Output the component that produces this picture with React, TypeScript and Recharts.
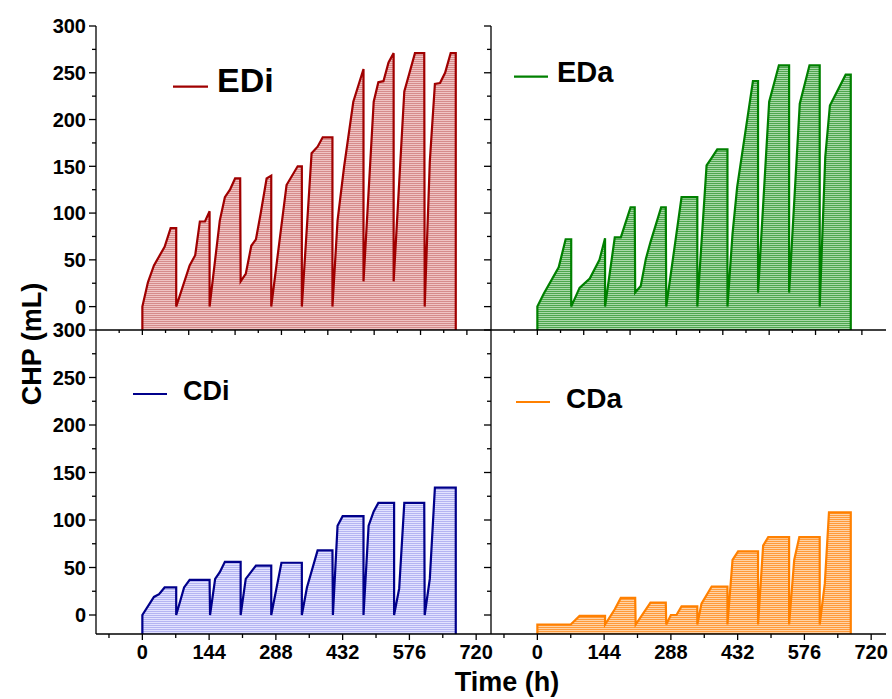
import React from 'react';
import { AreaChart, Area, XAxis, YAxis } from 'recharts';

// ---------- data (time in h, CHP in mL) ----------
const ediTime = [0, 12, 25, 48, 61, 73, 73, 102, 114, 124, 135, 145, 145, 167, 178, 189, 200, 211, 212, 223, 235, 245, 255, 268, 278, 278, 311, 335, 344, 344, 365, 378, 389, 410, 410, 421, 435, 455, 477, 477, 499, 509, 520, 531, 542, 542, 565, 588, 608, 609, 620, 631, 642, 653, 665, 676];
const ediValue = [0, 26, 44, 64, 84, 84, 0, 44, 55, 91, 91, 102, 0, 92, 117, 125, 137, 137, 27, 35, 65, 72, 99, 137, 140, 0, 130, 150, 150, 0, 164, 171, 181, 181, 0, 92, 149, 219, 254, 27, 219, 240, 241, 261, 271, 27, 230, 271, 271, 0, 155, 238, 239, 250, 271, 271];

const edaTime = [0, 14, 46, 61, 73, 73, 91, 113, 134, 146, 146, 167, 180, 201, 210, 211, 223, 234, 244, 267, 277, 278, 311, 345, 345, 365, 376, 388, 410, 410, 421, 431, 465, 476, 476, 500, 521, 543, 543, 566, 587, 609, 609, 621, 631, 665, 676];
const edaValue = [0, 14, 42, 72, 72, 0, 20, 30, 50, 73, 0, 74, 74, 106, 106, 15, 22, 51, 69, 106, 106, 0, 117, 117, 0, 151, 159, 168, 168, 0, 78, 128, 241, 241, 15, 219, 258, 258, 15, 217, 258, 258, 0, 160, 215, 248, 248];

const cdiTime = [0, 25, 36, 48, 73, 73, 90, 102, 145, 146, 157, 167, 178, 212, 212, 223, 245, 278, 278, 300, 344, 344, 355, 378, 410, 411, 421, 432, 477, 477, 488, 499, 509, 543, 543, 554, 565, 608, 609, 620, 631, 676];
const cdiValue = [0, 19, 22, 29, 29, 0, 29, 37, 37, 0, 38, 45, 56, 56, 0, 38, 52, 52, 0, 55, 55, 0, 29, 68, 68, 0, 94, 104, 104, 0, 94, 109, 118, 118, 0, 28, 118, 118, 0, 38, 134, 134];

const cdaTime = [0, 72, 91, 146, 146, 167, 180, 211, 212, 244, 277, 278, 288, 300, 311, 345, 345, 354, 376, 410, 410, 421, 433, 476, 476, 487, 498, 543, 543, 554, 565, 609, 609, 620, 629, 676];
const cdaValue = [-10, -10, -1, -1, -10, 6, 18, 18, -10, 13, 13, -10, 0, 0, 9, 9, -10, 12, 30, 30, -10, 58, 67, 67, -10, 73, 82, 82, -10, 58, 82, 82, -10, 33, 108, 108];

// tick values
const xLabelTicks = [-72, 0, 72, 144, 216, 288, 360, 432, 504, 576, 648, 720];
const xFiftyTicks = [-50, 0, 50, 100, 150, 200, 250, 300, 350, 400, 450, 500, 550, 600, 650, 700];
const yTicks = [0, 25, 50, 75, 100, 125, 150, 175, 200, 225, 250, 275, 300];

const X_MIN = -100;
const X_MAX = 752;
const Y_MAX = 300;

const FONT = '"Liberation Sans", Arial, Helvetica, sans-serif';
const AX = { stroke: '#000', strokeWidth: 1.3 };

const empty = () => <g />;

const leftTick = (labels: boolean) => (props: any) => {
  const { x, y, payload } = props;
  const v = payload.value;
  const major = v % 50 === 0;
  const len = major ? 7 : 4;
  return (
    <g>
      <line x1={x} x2={x - len} y1={y} y2={y} stroke="#000" strokeWidth={1.3} />
      {labels && major && (
        <text x={x - 10} y={y} dy="0.36em" textAnchor="end" fontSize={20} fontWeight="bold" fontFamily={FONT} fill="#000">
          {v}
        </text>
      )}
    </g>
  );
};

const bottomLabelTick = (props: any) => {
  const { x, y, payload } = props;
  const v = payload.value;
  const major = v % 144 === 0;
  const len = major ? 6 : 4;
  return (
    <g>
      <line x1={x} x2={x} y1={y} y2={y + len} stroke="#000" strokeWidth={1.3} />
      {major && v >= 0 && (
        <text x={x} y={y + 25} textAnchor="middle" fontSize={20} fontWeight="bold" fontFamily={FONT} fill="#000">
          {v}
        </text>
      )}
    </g>
  );
};

const bottomFiftyTick = (props: any) => {
  const { x, y, payload } = props;
  const v = payload.value;
  const len = v % 100 === 0 ? 5 : 3;
  return <line x1={x} x2={x} y1={y} y2={y + len} stroke="#000" strokeWidth={1.3} />;
};

const topInTick = (props: any) => {
  const { x, y, index } = props;
  const len = index % 2 === 1 ? 5 : 3;
  return <line x1={x} x2={x} y1={y} y2={y + len} stroke="#000" strokeWidth={1.3} />;
};

const rightInTick = (props: any) => {
  const { x, y, index } = props;
  const len = index % 2 === 1 ? 5 : 3;
  return <line x1={x} x2={x - len} y1={y} y2={y} stroke="#000" strokeWidth={1.3} />;
};

type PanelProps = {
  left: number;
  top: number;
  w: number;
  h: number;
  yMin: number;
  time: number[];
  value: number[];
  stroke: string;
  bg: string;
  line: string;
  pid: string;
  yLabels: boolean;
  xLabels: boolean;
  topTicks: boolean;
  rightTicks: boolean;
};

function Panel(p: PanelProps) {
  const ML = 90, MT = 10, MR = 10, MB = 60;
  const data = [
    { t: p.time[0], v: p.yMin },
    ...p.time.map((t, i) => ({ t, v: p.value[i] })),
    { t: p.time[p.time.length - 1], v: p.yMin },
  ];
  const xDomain = [X_MIN, X_MAX];
  const yDomain = [p.yMin, Y_MAX];
  const topVals = Array.from({ length: 9 }, (_, k) => X_MIN + ((k + 1) * (X_MAX - X_MIN)) / 10);
  const rightVals = Array.from({ length: 9 }, (_, k) => p.yMin + ((k + 1) * (Y_MAX - p.yMin)) / 10);
  return (
    <div style={{ position: 'absolute', left: p.left - ML, top: p.top - MT }}>
      <AreaChart
        width={p.w + ML + MR}
        height={p.h + MT + MB}
        data={data}
        margin={{ top: MT, right: MR, bottom: 0, left: 0 }}
      >
        <defs>
          <pattern id={p.pid} patternUnits="userSpaceOnUse" width={3} height={2}>
            <rect width={3} height={2} fill={p.bg} />
            <rect y={1} width={3} height={1} fill={p.line} />
          </pattern>
        </defs>
        <XAxis
          xAxisId="b"
          dataKey="t"
          type="number"
          domain={xDomain}
          allowDataOverflow
          ticks={p.xLabels ? xLabelTicks : xFiftyTicks}
          interval={0}
          height={MB}
          tickSize={0}
          tickMargin={0}
          tickLine={false}
          axisLine={AX}
          tick={p.xLabels ? bottomLabelTick : bottomFiftyTick}
        />
        <XAxis
          xAxisId="t"
          orientation="top"
          dataKey="t"
          type="number"
          domain={xDomain}
          allowDataOverflow
          ticks={topVals}
          interval={0}
          height={0}
          tickSize={0}
          tickMargin={0}
          tickLine={false}
          axisLine={AX}
          tick={p.topTicks ? topInTick : empty}
        />
        <YAxis
          yAxisId="l"
          type="number"
          domain={yDomain}
          allowDataOverflow
          ticks={yTicks}
          interval={0}
          width={ML}
          tickSize={0}
          tickMargin={0}
          tickLine={false}
          axisLine={AX}
          tick={leftTick(p.yLabels)}
        />
        <YAxis
          yAxisId="r"
          orientation="right"
          type="number"
          domain={yDomain}
          allowDataOverflow
          ticks={rightVals}
          interval={0}
          width={0}
          tickSize={0}
          tickMargin={0}
          tickLine={false}
          axisLine={AX}
          tick={p.rightTicks ? rightInTick : empty}
        />
        <Area
          xAxisId="b"
          yAxisId="l"
          type="linear"
          dataKey="v"
          baseValue={p.yMin}
          stroke={p.stroke}
          strokeWidth={2.2}
          fill={`url(#${p.pid})`}
          fillOpacity={1}
          dot={false}
          activeDot={false}
          isAnimationActive={false}
        />
      </AreaChart>
    </div>
  );
}

const LEFT_X = 96;
const RIGHT_X = 491;
const PW = 395;
const TOP_Y = 26;
const BOT_Y = 330;
const PH = 304;

export default function App() {
  return (
    <div style={{ position: 'absolute', left: 0, top: 0, width: 892, height: 699, background: '#fff', overflow: 'hidden' }}>
      <Panel left={LEFT_X} top={TOP_Y} w={PW} h={PH} yMin={-25} time={ediTime} value={ediValue}
        stroke="#a00000" bg="#f0c4c4" line="#d68c8c" pid="pEDi" yLabels xLabels={false} topTicks rightTicks={false} />
      <Panel left={RIGHT_X} top={TOP_Y} w={PW} h={PH} yMin={-25} time={edaTime} value={edaValue}
        stroke="#008000" bg="#a9d9a9" line="#4ea64e" pid="pEDa" yLabels={false} xLabels={false} topTicks rightTicks />
      <Panel left={LEFT_X} top={BOT_Y} w={PW} h={PH} yMin={-20} time={cdiTime} value={cdiValue}
        stroke="#00008b" bg="#e2e2ff" line="#b4b4f2" pid="pCDi" yLabels xLabels topTicks={false} rightTicks={false} />
      <Panel left={RIGHT_X} top={BOT_Y} w={PW} h={PH} yMin={-20} time={cdaTime} value={cdaValue}
        stroke="#ff8000" bg="#ffd3a6" line="#ff9a3a" pid="pCDa" yLabels={false} xLabels topTicks={false} rightTicks />
      <svg width={892} height={699} style={{ position: 'absolute', left: 0, top: 0, pointerEvents: 'none' }}>
        <g fontFamily={FONT} fontWeight="bold" fill="#000">
          <line x1={173} x2={208} y1={86.7} y2={86.7} stroke="#a00000" strokeWidth={2.2} />
          <text x={217} y={91.7} fontSize={34}>EDi</text>
          <line x1={514} x2={548} y1={76.7} y2={76.7} stroke="#008000" strokeWidth={2.2} />
          <text x={557} y={81.7} fontSize={29}>EDa</text>
          <line x1={133} x2={167} y1={394} y2={394} stroke="#00008b" strokeWidth={2.2} />
          <text x={183} y={400} fontSize={27}>CDi</text>
          <line x1={516} x2={550} y1={402} y2={402} stroke="#ff8000" strokeWidth={2.2} />
          <text x={566} y={408} fontSize={28}>CDa</text>
          <text x={0} y={0} fontSize={27} textAnchor="middle" transform="translate(41 344) rotate(-90)">CHP (mL)</text>
          <text x={507} y={691} fontSize={27} textAnchor="middle">Time (h)</text>
        </g>
      </svg>
    </div>
  );
}
